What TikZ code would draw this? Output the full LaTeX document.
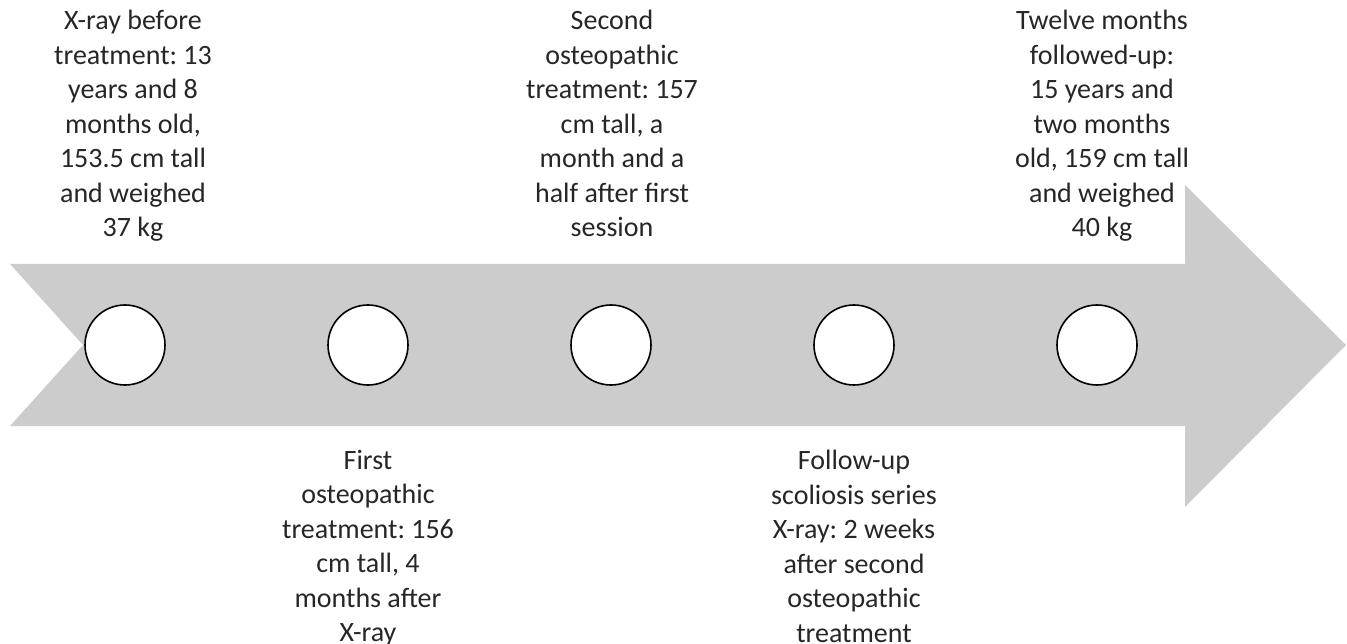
\documentclass[tikz,border=0pt]{standalone}
\usepackage{fontspec}
\setmainfont{Carlito}
\frenchspacing
\begin{document}
\begin{tikzpicture}[x=1pt,y=-1pt,
  dot/.style={circle,draw=black,line width=1.6pt,fill=white,minimum size=80pt,inner sep=0pt},
  lbl/.style={align=center,inner sep=0pt,text=black!85,font=\fontsize{28}{34.5}\selectfont\frenchspacing}]
\useasboundingbox (0,0) rectangle (1347,644);
\fill[black!20] (10,264) -- (1185,264) -- (1185,185) -- (1346,345) -- (1185,507) -- (1185,426) -- (10,426) -- (83,345) -- cycle;
\node[dot] (c1) at (125,345) {};
\node[dot] (c2) at (368,345) {};
\node[dot] (c3) at (611,345) {};
\node[dot] (c4) at (854,345) {};
\node[dot] (c5) at (1097,345) {};
\node[lbl,anchor=north] (t1) at (133,10) {X-ray before\\treatment: 13\\years and 8\\months old,\\153.5 cm tall\\and weighed\\37 kg};
\node[lbl,anchor=north] (t3) at (612,10) {Second\\osteopathic\\treatment: 157\\cm tall, a\\month and a\\half after first\\session};
\node[lbl,anchor=north] (t5) at (1102,10) {Twelve months\\followed-up:\\15 years and\\two months\\old, 159 cm tall\\and weighed\\40 kg};
\node[lbl,anchor=north] (t2) at (368,450) {First\\osteopathic\\treatment: 156\\cm tall, 4\\months after\\X-ray};
\node[lbl,anchor=north] (t4) at (854,450) {Follow-up\\scoliosis series\\X-ray: 2 weeks\\after second\\osteopathic\\treatment};
\end{tikzpicture}
\end{document}
